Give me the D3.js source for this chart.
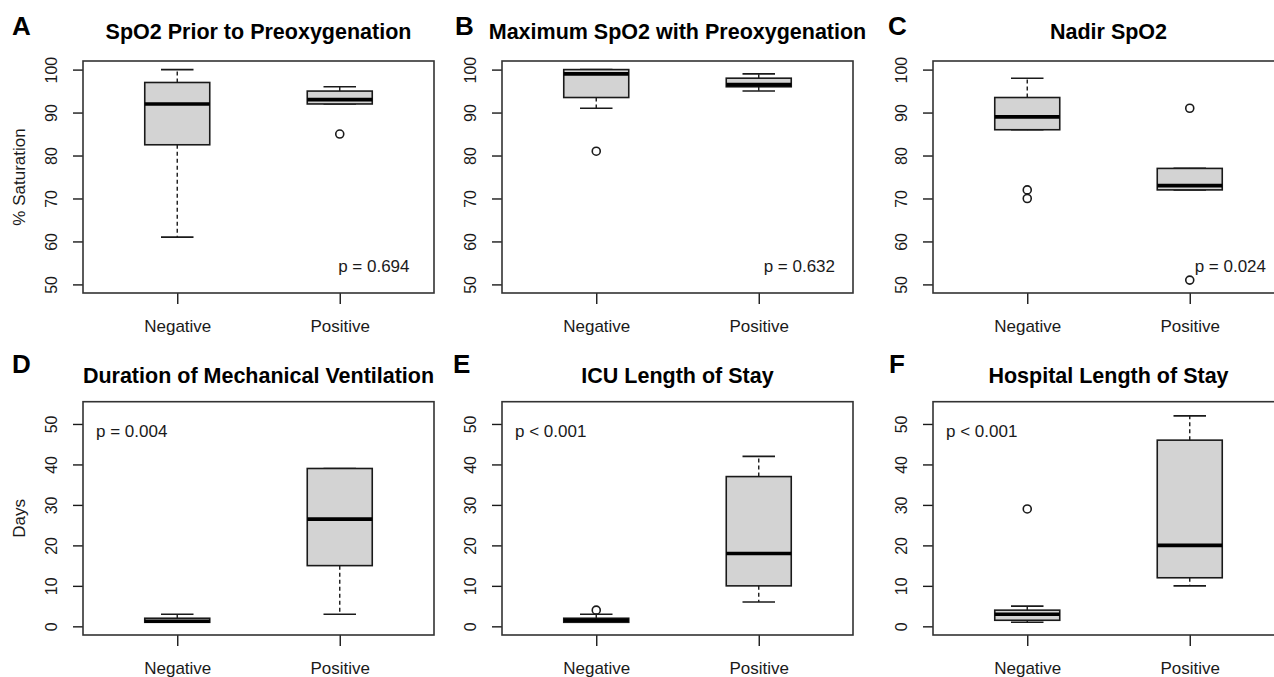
<!DOCTYPE html>
<html>
<head>
<meta charset="utf-8">
<script src="https://cdn.jsdelivr.net/npm/d3@7"></script>
<style>
  body { margin: 0; background: #fff; }
  svg { display: block; font-family: "Liberation Sans", Arial, sans-serif; }
</style>
</head>
<body>
<svg id="chart" width="1274" height="677"></svg>
<script>
// data
const groups = ["Negative", "Positive"];
const panelLetters = ["A", "B", "C", "D", "E", "F"];
const panelTitles = [
    "SpO2 Prior to Preoxygenation",
    "Maximum SpO2 with Preoxygenation",
    "Nadir SpO2",
    "Duration of Mechanical Ventilation",
    "ICU Length of Stay",
    "Hospital Length of Stay"
];
const yTitles = ["% Saturation", "", "", "Days", "", ""];
const pLabels = ["p = 0.694", "p = 0.632", "p = 0.024", "p = 0.004", "p < 0.001", "p < 0.001"];
// where the p label sits, in data units (x, y)
const pAnchor = [[1.99, 52.8], [2.03, 52.8], [2.03, 52.8], [0.5, 46.7], [0.5, 46.7], [0.5, 46.7]];
const spo2Ticks = [50, 60, 70, 80, 90, 100];
const dayTicks = [0, 10, 20, 30, 40, 50];

// five number summaries: [lower whisker, Q1, median, Q3, upper whisker]
const negStats = [
    [61, 82.5, 92, 97, 100],
    [91, 93.5, 99, 100, 100],
    [86, 86, 89, 93.5, 98],
    [1, 1, 1.25, 2, 3],
    [1, 1, 1.5, 2, 3],
    [1, 1.5, 3, 4, 5]
];
const posStats = [
    [92, 92, 93, 95, 96],
    [95, 96, 96.5, 98, 99],
    [72, 72, 73, 77, 77],
    [3, 15, 26.5, 39, 39],
    [6, 10, 18, 37, 42],
    [10, 12, 20, 46, 52]
];
const negOutliers = [[], [81], [72, 70], [], [4], [29]];
const posOutliers = [[85], [], [91, 51], [], [], []];

// layout
const svg = d3.select("#chart");
const plotW = 351;
const lefts = [83, 502, 933, 83, 502, 933];
const rows = [
    {top: 61, bottom: 293, domain: [48, 102], ticks: spo2Ticks, titleGap: 22, letterY: 35},
    {top: 401.7, bottom: 635, domain: [-2.14, 55.5], ticks: dayTicks, titleGap: 18.5, letterY: 373}
];
const letterX = [12, 455, 888, 12, 453, 889];

const boxColor = "#d3d3d3";
const ink = "#1a1a1a";

panelTitles.forEach(function (title, p) {
    let row = rows[Math.floor(p / 3)];
    let left = lefts[p];

    let x = d3.scaleLinear().domain([0.42, 2.58]).range([left, left + plotW]);
    let y = d3.scaleLinear().domain(row.domain).range([row.bottom, row.top]);

    let g = svg.append("g");

    // y axis
    let yAxis = g.append("g")
        .attr("transform", "translate(" + left + ",0)")
        .call(d3.axisLeft(y).tickValues(row.ticks).tickSize(10).tickSizeOuter(0));
    yAxis.select(".domain").remove();
    yAxis.selectAll("line").attr("stroke", ink).attr("stroke-width", 1.4);
    yAxis.selectAll("text")
        .attr("transform", "rotate(-90)")
        .attr("x", 0).attr("y", -26).attr("dy", 0)
        .attr("text-anchor", "middle")
        .attr("fill", ink)
        .style("font-size", "16px");

    // x axis
    let xAxis = g.append("g")
        .attr("transform", "translate(0," + row.bottom + ")")
        .call(d3.axisBottom(x).tickValues([1, 2]).tickSize(11).tickSizeOuter(0)
            .tickFormat(function (d) { return groups[d - 1]; }));
    xAxis.select(".domain").remove();
    xAxis.selectAll("line").attr("stroke", ink).attr("stroke-width", 1.4);
    xAxis.selectAll("text")
        .attr("y", 39).attr("dy", 0)
        .attr("fill", ink)
        .style("font-size", "17px");

    // frame
    g.append("rect")
        .attr("x", left).attr("y", row.top)
        .attr("width", plotW).attr("height", row.bottom - row.top)
        .attr("fill", "none")
        .attr("stroke", "#333")
        .attr("stroke-width", 1.6);

    // boxes
    let stats = [negStats[p], posStats[p]];
    let outs = [negOutliers[p], posOutliers[p]];
    stats.forEach(function (s, i) {
        let c = i + 1;
        // whiskers
        g.append("line")
            .attr("x1", x(c)).attr("x2", x(c))
            .attr("y1", y(s[3])).attr("y2", y(s[4]))
            .attr("stroke", ink).attr("stroke-width", 1.4)
            .attr("stroke-dasharray", "4,3");
        g.append("line")
            .attr("x1", x(c)).attr("x2", x(c))
            .attr("y1", y(s[1])).attr("y2", y(s[0]))
            .attr("stroke", ink).attr("stroke-width", 1.4)
            .attr("stroke-dasharray", "4,3");
        // staples
        [s[0], s[4]].forEach(function (v) {
            g.append("line")
                .attr("x1", x(c - 0.1)).attr("x2", x(c + 0.1))
                .attr("y1", y(v)).attr("y2", y(v))
                .attr("stroke", ink).attr("stroke-width", 1.6);
        });
        // box
        g.append("rect")
            .attr("x", x(c - 0.2))
            .attr("y", y(s[3]))
            .attr("width", x(c + 0.2) - x(c - 0.2))
            .attr("height", y(s[1]) - y(s[3]))
            .attr("fill", boxColor)
            .attr("stroke", ink)
            .attr("stroke-width", 1.6);
        // median
        g.append("line")
            .attr("x1", x(c - 0.2)).attr("x2", x(c + 0.2))
            .attr("y1", y(s[2])).attr("y2", y(s[2]))
            .attr("stroke", "#000").attr("stroke-width", 3.6);
        // outliers
        g.selectAll(null)
            .data(outs[i])
            .enter()
            .append("circle")
            .attr("cx", x(c))
            .attr("cy", function (d) { return y(d); })
            .attr("r", 4)
            .attr("fill", "none")
            .attr("stroke", ink)
            .attr("stroke-width", 1.6);
    });

    // p value
    g.append("text")
        .attr("x", x(pAnchor[p][0]))
        .attr("y", y(pAnchor[p][1]))
        .attr("fill", ink)
        .style("font-size", "17px")
        .text(pLabels[p]);

    // title
    g.append("text")
        .attr("x", left + plotW / 2)
        .attr("y", row.top - row.titleGap)
        .attr("text-anchor", "middle")
        .style("font-size", "21.5px")
        .style("font-weight", "bold")
        .text(title);

    // panel letter
    g.append("text")
        .attr("x", letterX[p])
        .attr("y", row.letterY)
        .style("font-size", "26px")
        .style("font-weight", "bold")
        .text(panelLetters[p]);

    // y title
    if (yTitles[p] !== "") {
        g.append("text")
            .attr("transform", "translate(25," + (row.top + row.bottom) / 2 + ") rotate(-90)")
            .attr("text-anchor", "middle")
            .attr("fill", ink)
            .style("font-size", "17px")
            .text(yTitles[p]);
    }
});
</script>
</body>
</html>
